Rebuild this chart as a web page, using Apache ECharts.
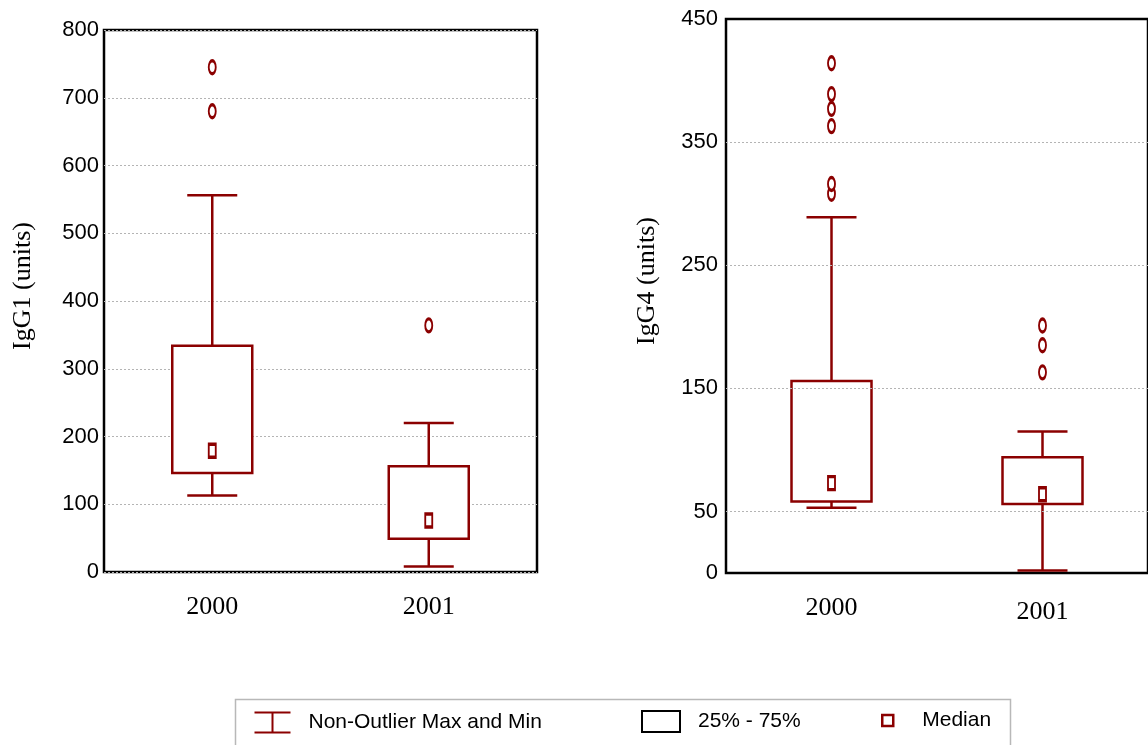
<!DOCTYPE html>
<html>
<head>
<meta charset="utf-8">
<script src="https://cdn.jsdelivr.net/npm/echarts@6/dist/echarts.min.js"></script>
<style>
html, body { margin: 0; padding: 0; background: #fff; }
#chart { width: 1148px; height: 745px; }
</style>
</head>
<body>
<div id="chart"></div>
<script>
// categories
const years = ['2000', '2001'];

// IgG1 box statistics, one value per year
const igg1Min = [113, 8];
const igg1Q1 = [146, 49];
const igg1Median = [179, 76];
const igg1Q3 = [334, 156];
const igg1Max = [556, 220];
const igg1Outliers2000 = [680, 745];
const igg1Outliers2001 = [364];

// IgG4 box statistics, one value per year
const igg4Min = [53, 2];
const igg4Q1 = [58, 56];
const igg4Median = [73, 64];
const igg4Q3 = [156, 94];
const igg4Max = [289, 115];
const igg4Outliers2000 = [308, 316, 363, 377, 389, 414];
const igg4Outliers2001 = [163, 185, 201];

// tick labels
const igg1Ticks = [0, 100, 200, 300, 400, 500, 600, 700, 800];
const igg4Ticks = [0, 50, 150, 250, 350, 450];

const RED = '#8b0000';
const SANS = 'Liberation Sans';
const SERIF = 'Liberation Serif';

// whiskers: vertical line + caps
function renderWhisker(params, api) {
  const i = api.value(0);
  const pMin = api.coord([i, api.value(1)]);
  const pQ1 = api.coord([i, api.value(2)]);
  const pQ3 = api.coord([i, api.value(3)]);
  const pMax = api.coord([i, api.value(4)]);
  const half = 25;
  const style = { stroke: RED, lineWidth: 2.5, fill: null };
  return {
    type: 'group',
    children: [
      { type: 'line', shape: { x1: pMax[0], y1: pMax[1], x2: pQ3[0], y2: pQ3[1] }, style: style },
      { type: 'line', shape: { x1: pQ1[0], y1: pQ1[1], x2: pMin[0], y2: pMin[1] }, style: style },
      { type: 'line', shape: { x1: pMax[0] - half, y1: pMax[1], x2: pMax[0] + half, y2: pMax[1] }, style: style },
      { type: 'line', shape: { x1: pMin[0] - half, y1: pMin[1], x2: pMin[0] + half, y2: pMin[1] }, style: style }
    ]
  };
}

// 25%-75% box
function renderBox(params, api) {
  const i = api.value(0);
  const pQ1 = api.coord([i, api.value(1)]);
  const pQ3 = api.coord([i, api.value(2)]);
  const half = 40;
  return {
    type: 'rect',
    shape: { x: pQ3[0] - half, y: pQ3[1], width: half * 2, height: pQ1[1] - pQ3[1] },
    style: { fill: '#fff', stroke: RED, lineWidth: 2.5 }
  };
}

function boxSeries(xi, yi, mins, q1s, medians, q3s, maxs, outliers) {
  const outlierData = [];
  outliers.forEach((list, i) => list.forEach(v => outlierData.push([i, v])));
  return [
    {
      name: 'Non-Outlier Max and Min', type: 'custom', xAxisIndex: xi, yAxisIndex: yi,
      renderItem: renderWhisker, encode: { x: 0, y: [1, 2, 3, 4] }, z: 3,
      data: years.map((y, i) => [i, mins[i], q1s[i], q3s[i], maxs[i]])
    },
    {
      name: '25% - 75%', type: 'custom', xAxisIndex: xi, yAxisIndex: yi,
      renderItem: renderBox, encode: { x: 0, y: [1, 2] }, z: 4,
      data: years.map((y, i) => [i, q1s[i], q3s[i]])
    },
    {
      name: 'Median', type: 'scatter', xAxisIndex: xi, yAxisIndex: yi, z: 5,
      symbol: 'rect', symbolSize: [7, 13],
      itemStyle: { color: '#fff', borderColor: RED, borderWidth: 2.5, opacity: 1 },
      data: years.map((y, i) => [i, medians[i]])
    },
    {
      name: 'Outliers', type: 'scatter', xAxisIndex: xi, yAxisIndex: yi, z: 5,
      symbol: 'circle', symbolSize: [7, 13],
      itemStyle: { color: '#fff', borderColor: RED, borderWidth: 2.5, opacity: 1 },
      data: outlierData
    }
  ];
}

const catLabel = { fontFamily: SERIF, fontSize: 26, color: '#000', margin: 22 };
const valLabel = { fontFamily: SANS, fontSize: 22, color: '#000' };
const dotted = { type: [2, 2], color: '#b4b4b4', width: 1 };
const nameStyle = { fontFamily: SERIF, fontSize: 26, color: '#000', padding: [0, 0, 0, 30] };
const innerTick = { inside: true, length: 4, lineStyle: { color: '#000', width: 2 } };

const chart = echarts.init(document.getElementById('chart'));

const option = {
  animation: false,
  backgroundColor: '#fff',
  grid: [
    { left: 104, top: 30, width: 433, height: 542, show: true, borderColor: '#000', borderWidth: 2.5, backgroundColor: 'transparent' },
    { left: 726, top: 19, width: 436, height: 554, show: true, borderColor: '#000', borderWidth: 2.5, backgroundColor: 'transparent' }
  ],
  xAxis: [
    { type: 'category', gridIndex: 0, data: years, axisLine: { show: false }, axisTick: { show: false }, axisLabel: catLabel },
    { type: 'category', gridIndex: 0, position: 'top', data: years, axisLine: { show: false },
      axisTick: innerTick, axisLabel: { show: false } },
    { type: 'category', gridIndex: 1, axisLine: { show: false }, axisTick: innerTick, axisLabel: catLabel,
      data: [years[0], { value: years[1], textStyle: { padding: [4, 0, 0, 0] } }] },
    { type: 'category', gridIndex: 1, position: 'top', data: years, axisLine: { show: false },
      axisTick: innerTick, axisLabel: { show: false } }
  ],
  yAxis: [
    {
      type: 'value', gridIndex: 0, min: 0, max: 800, interval: 100,
      name: 'IgG1 (units)', nameLocation: 'middle', nameRotate: 90, nameGap: 68, nameTextStyle: nameStyle,
      axisLine: { show: false }, axisTick: { show: false },
      axisLabel: Object.assign({ margin: 5, formatter: v => igg1Ticks.includes(v) ? String(v) : '' }, valLabel),
      splitLine: { show: true, lineStyle: dotted }
    },
    {
      type: 'value', gridIndex: 0, position: 'right', min: 0, max: 800, interval: 100,
      axisLine: { show: false }, axisLabel: { show: false }, splitLine: { show: false },
      axisTick: innerTick
    },
    {
      type: 'value', gridIndex: 1, min: 0, max: 450, interval: 50,
      name: 'IgG4 (units)', nameLocation: 'middle', nameRotate: 90, nameGap: 66, nameTextStyle: nameStyle,
      axisLine: { show: false }, axisTick: { show: false },
      axisLabel: Object.assign({ margin: 8, formatter: v => igg4Ticks.includes(v) ? String(v) : '' }, valLabel),
      splitLine: { show: false }
    }
  ],
  legend: [
    { left: 252, top: 710, padding: 0, itemWidth: 36, itemHeight: 20, selectedMode: false,
      data: [{ name: 'Non-Outlier Max and Min', icon: 'path://M0,0L36,0M18,0L18,20M0,20L36,20' }],
      itemStyle: { color: 'none', borderColor: RED, borderWidth: 2 },
      textStyle: { fontFamily: SANS, fontSize: 21, color: '#000', padding: [0, 0, 0, 13] } },
    { left: 641, top: 710, padding: 0, itemWidth: 38, itemHeight: 21, selectedMode: false,
      data: [{ name: '25% - 75%', icon: 'rect' }],
      itemStyle: { color: '#fff', borderColor: '#000', borderWidth: 2 },
      textStyle: { fontFamily: SANS, fontSize: 21, color: '#000', padding: [0, 0, 0, 13] } },
    { left: 881, top: 710, padding: 0, itemWidth: 11, itemHeight: 11, selectedMode: false,
      data: [{ name: 'Median', icon: 'rect' }],
      itemStyle: { color: '#fff', borderColor: RED, borderWidth: 2.5 },
      textStyle: { fontFamily: SANS, fontSize: 21, color: '#000', padding: [0, 0, 0, 24] } }
  ],
  graphic: [
    { type: 'rect', left: 233, top: 697, shape: { width: 775, height: 70 },
      style: { fill: 'none', stroke: '#b8b8b8', lineWidth: 1.5 }, z: 0 }
  ],
  series: [
    ...boxSeries(0, 0, igg1Min, igg1Q1, igg1Median, igg1Q3, igg1Max, [igg1Outliers2000, igg1Outliers2001]),
    ...boxSeries(2, 2, igg4Min, igg4Q1, igg4Median, igg4Q3, igg4Max, [igg4Outliers2000, igg4Outliers2001]),
    {
      // gridlines for the IgG4 panel at the labelled ticks only
      type: 'scatter', xAxisIndex: 2, yAxisIndex: 2, data: [], silent: true, z: 1,
      markLine: {
        silent: true, symbol: 'none', label: { show: false },
        lineStyle: dotted,
        data: igg4Ticks.filter(v => v > 0 && v < 450).map(v => ({ yAxis: v }))
      }
    }
  ]
};

chart.setOption(option);
</script>
</body>
</html>
